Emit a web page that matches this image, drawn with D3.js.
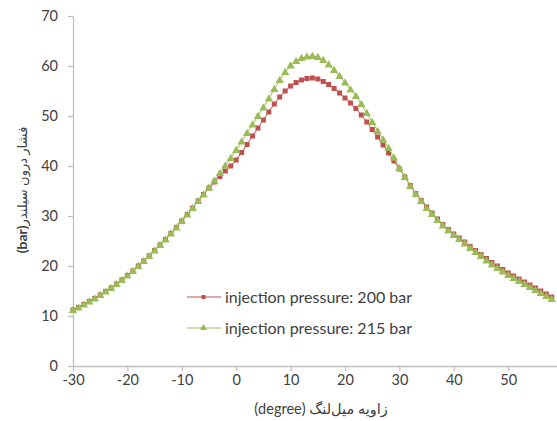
<!DOCTYPE html>
<html>
<head>
<meta charset="utf-8">
<script src="https://cdn.jsdelivr.net/npm/d3@7"></script>
<style>
  body { margin: 0; background: #fff; }
  #chart-wrapper { width: 557px; height: 421px; overflow: hidden; }
</style>
</head>
<body>
<div id="chart-wrapper"></div>
<script>
// Crank angle (degree), one point per degree
const angles = d3.range(-30, 59)

// Cylinder pressure (bar), injection pressure 200 bar
const p200 = [
  11.2, 11.7, 12.3, 12.9, 13.5, 14.2, 14.9, 15.6, 16.4, 17.2,
  18.1, 19.0, 20.0, 21.0, 22.0, 23.1, 24.2, 25.3, 26.5, 27.7,
  29.0, 30.3, 31.6, 33.0, 34.3, 35.6, 36.8, 37.9, 39.0, 40.0,
  41.2, 42.7, 44.3, 46.0, 47.6, 49.2, 50.8, 52.4, 53.8, 55.0,
  56.0, 56.7, 57.2, 57.5, 57.6, 57.4, 56.9, 56.3, 55.5, 54.6,
  53.6, 52.6, 51.5, 50.2, 48.8, 47.3, 45.8, 44.2, 42.6, 41.0,
  39.4, 37.8, 36.1, 34.5, 33.1, 31.8, 30.6, 29.4, 28.3, 27.3,
  26.4, 25.6, 24.8, 23.9, 23.1, 22.3, 21.5, 20.7, 20.0, 19.3,
  18.6, 18.0, 17.4, 16.8, 16.2, 15.6, 15.0, 14.4, 13.8
]

// Cylinder pressure (bar), injection pressure 215 bar
const p215 = [
  11.2, 11.7, 12.3, 12.9, 13.5, 14.2, 14.9, 15.6, 16.4, 17.2,
  18.1, 19.0, 20.0, 21.0, 22.0, 23.1, 24.2, 25.3, 26.5, 27.7,
  29.0, 30.3, 31.6, 33.0, 34.3, 35.7, 37.1, 38.6, 40.1, 41.6,
  43.2, 44.9, 46.6, 48.3, 50.0, 51.7, 53.5, 55.4, 57.2, 58.8,
  60.1, 61.0, 61.6, 61.9, 62.0, 61.8, 61.2, 60.3, 59.2, 58.0,
  56.7, 55.3, 54.0, 52.4, 50.6, 48.8, 47.0, 45.3, 43.6, 41.7,
  39.6, 37.8, 36.0, 34.4, 33.0, 31.6, 30.4, 29.2, 28.1, 27.1,
  26.2, 25.4, 24.5, 23.6, 22.8, 22.0, 21.1, 20.3, 19.6, 18.9,
  18.2, 17.6, 17.0, 16.4, 15.8, 15.2, 14.6, 14.0, 13.4
]

const xTicks = [-30, -20, -10, 0, 10, 20, 30, 40, 50]
const yTicks = [0, 10, 20, 30, 40, 50, 60, 70]

const seriesNames = ["injection pressure: 200 bar", "injection pressure: 215 bar"]

const width = 557
const height = 421
const red = "#c0504d"
const green = "#9bbb59"
const textColor = "#404040"
const axisColor = "#bfbfbf"
const font = "Lato, 'DejaVu Sans', sans-serif"

const svg = d3.select("#chart-wrapper")
  .append("svg")
  .attr("width", width)
  .attr("height", height)

const xScale = d3.scaleLinear().domain([-30, 60]).range([73, 562.6])
const yScale = d3.scaleLinear().domain([0, 70]).range([366, 16])

// X axis (plain hyphen for negatives, as in the original)
const xAxis = svg.append("g")
  .attr("transform", `translate(0,${yScale(0)})`)
  .call(d3.axisBottom(xScale).tickValues(xTicks).tickFormat(d => String(d))
    .tickSize(5).tickSizeOuter(0).tickPadding(4))
xAxis.select(".domain").attr("stroke", axisColor).attr("stroke-width", 1.3)
xAxis.selectAll(".tick line").attr("stroke", axisColor).attr("stroke-width", 1.3)
xAxis.selectAll("text")
  .attr("fill", textColor)
  .attr("font-size", 14.5)
  .attr("font-family", font)

// Y axis
const yAxis = svg.append("g")
  .attr("transform", `translate(${xScale(-30)},0)`)
  .call(d3.axisLeft(yScale).tickValues(yTicks).tickFormat(d => String(d))
    .tickSize(5).tickSizeOuter(0).tickPadding(10))
yAxis.select(".domain").attr("stroke", axisColor).attr("stroke-width", 1.3)
yAxis.selectAll(".tick line").attr("stroke", axisColor).attr("stroke-width", 1.3)
yAxis.selectAll("text")
  .attr("fill", textColor)
  .attr("font-size", 14.5)
  .attr("font-family", font)

// Lines and markers
const line = d3.line().x((d, i) => xScale(angles[i])).y(d => yScale(d))

svg.append("path")
  .datum(p200)
  .attr("d", line)
  .attr("fill", "none")
  .attr("stroke", red)
  .attr("stroke-width", 1)

svg.append("g")
  .selectAll("rect")
  .data(p200)
  .join("rect")
  .attr("x", (d, i) => xScale(angles[i]) - 2.5)
  .attr("y", d => yScale(d) - 2.5)
  .attr("width", 5)
  .attr("height", 5)
  .attr("fill", red)

svg.append("path")
  .datum(p215)
  .attr("d", line)
  .attr("fill", "none")
  .attr("stroke", green)
  .attr("stroke-width", 1)

const tri = d3.symbol().type(d3.symbolTriangle).size(30)
svg.append("g")
  .selectAll("path")
  .data(p215)
  .join("path")
  .attr("d", tri)
  .attr("transform", (d, i) => `translate(${xScale(angles[i])},${yScale(d) + 0.5})`)
  .attr("fill", green)

// Legend
const legend = svg.append("g")
const legendRows = [
  {name: seriesNames[0], color: red, y: 297, marker: "square"},
  {name: seriesNames[1], color: green, y: 328, marker: "triangle"}
]
const triSmall = d3.symbol().type(d3.symbolTriangle).size(22)
legendRows.forEach(r => {
  legend.append("line")
    .attr("x1", 187).attr("x2", 221)
    .attr("y1", r.y).attr("y2", r.y)
    .attr("stroke", r.color).attr("stroke-width", 1)
  if (r.marker === "square") {
    legend.append("rect")
      .attr("x", 201.5).attr("y", r.y - 2)
      .attr("width", 4).attr("height", 4)
      .attr("fill", r.color)
  } else {
    legend.append("path")
      .attr("d", triSmall)
      .attr("transform", `translate(203.5,${r.y})`)
      .attr("fill", r.color)
  }
  legend.append("text")
    .attr("x", 225)
    .attr("y", r.y + 5.5)
    .attr("fill", textColor)
    .attr("font-size", 16)
    .attr("font-family", font)
    .text(r.name)
})

// Axis titles
svg.append("text")
  .attr("x", 321)
  .attr("y", 414)
  .attr("direction", "rtl")
  .attr("text-anchor", "middle")
  .attr("fill", textColor)
  .attr("font-size", 14.5)
  .attr("font-family", font)
  .text("زاویه میل‌لنگ (degree)")

const yTitle = svg.append("text")
  .attr("transform", "translate(27,190) rotate(-90)")
  .attr("direction", "rtl")
  .attr("text-anchor", "middle")
  .attr("fill", textColor)
  .attr("font-size", 13)
  .attr("font-family", font)
yTitle.append("tspan").text("فشار درون سیلندر")
yTitle.append("tspan").attr("font-weight", "bold").attr("font-size", 14).text("(bar)")
</script>
</body>
</html>
